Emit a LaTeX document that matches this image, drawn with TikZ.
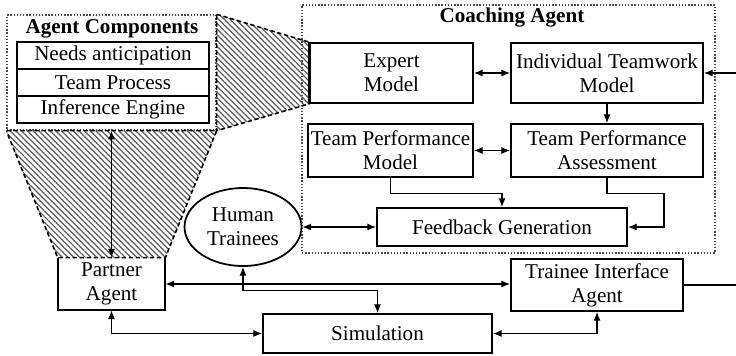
\documentclass[tikz,border=0pt]{standalone}
\usepackage{fontspec}
\setmainfont{Liberation Serif}
\usetikzlibrary{arrows.meta, patterns.meta, shapes.geometric}

\begin{document}
\begin{tikzpicture}[x=0.02cm, y=-0.02cm, font=\fontsize{12}{13.6}\selectfont,
	box/.style={draw, line width=1pt, inner sep=0pt, align=center},
	frame/.style={draw, densely dotted, line width=0.8pt, black!70, inner sep=0pt},
	link/.style={line width=0.7pt, -{Latex[length=5pt, width=4pt]}},
	dlink/.style={line width=0.7pt, {Latex[length=5pt, width=4pt]}-{Latex[length=5pt, width=4pt]}},
	hatch/.style={dash pattern=on 2.5pt off 1.5pt, line width=0.9pt, pattern={Lines[angle=-45, distance=2.3pt, line width=0.7pt]}, pattern color=black!65}]
	
	\useasboundingbox (0,0) rectangle (736,355);
	
	% Khung thành phần
	\node[frame, minimum width=4.18cm, minimum height=2.3cm] (comp) at (111.5, 72.5) {};
	\node[font=\fontsize{12}{13.6}\selectfont\bfseries] (compTitle) at (112, 29) {Agent Components};
	\node[box, minimum width=3.84cm, minimum height=0.54cm] (needs) at (113, 55.5) {Needs anticipation};
	\node[box, minimum width=3.84cm, minimum height=0.54cm] (process) at (113, 82.5) {Team Process};
	\node[box, minimum width=3.84cm, minimum height=0.54cm] (engine) at (113, 109.5) {Inference Engine};
	
	% Coaching Agent
	\node[frame, minimum width=8.26cm, minimum height=4.96cm] (coach) at (508.5, 129) {};
	\node[font=\fontsize{12}{13.6}\selectfont\bfseries] (coachTitle) at (512, 18) {Coaching Agent};
	\node[box, minimum width=3.26cm, minimum height=1.2cm] (expert) at (391.5, 73) {Expert\\Model};
	\node[box, minimum width=3.84cm, minimum height=1.2cm] (itm) at (607, 73) {Individual Teamwork\\Model};
	\node[box, minimum width=3.3cm, minimum height=1.06cm] (tpm) at (390.5, 150.5) {Team Performance\\Model};
	\node[box, minimum width=3.84cm, minimum height=1.06cm] (tpa) at (607, 150.5) {Team Performance\\Assessment};
	\node[box, minimum width=5cm, minimum height=0.76cm] (feed) at (502, 227) {Feedback Generation};
	
	% Ngoài
	\node[box, ellipse, minimum width=2.34cm, minimum height=1.56cm] (human) at (243, 227) {Human\\Trainees};
	\node[inner sep=0pt, align=center, minimum width=2.14cm, minimum height=1.04cm] (partner) at (111.5, 284) {Partner\\Agent};
	\node[box, minimum width=4.58cm, minimum height=0.78cm] (sim) at (377.5, 333.5) {Simulation};
	\node[box, minimum width=3.44cm, minimum height=1.04cm] (tia) at (597, 285) {Trainee Interface\\Agent};
	\draw[line width=1pt] (partner.north west) -- (partner.south west) -- (partner.south east) -- (partner.north east);
	
	% Vùng gạch chéo
	\draw[hatch] (comp.south west) -- (comp.south east) -- (partner.north east) -- (partner.north west) -- cycle;
	\draw[hatch] (comp.north east) -- (expert.north west) -- (expert.south west) -- (comp.south east) -- cycle;
	\draw[line width=1pt] (expert.north west) -- (expert.south west);
	
	% Mũi tên
	\draw[dlink] (expert.east) -- (itm.west);
	\draw[link] (itm.south) -- (tpa.north);
	\draw[dlink] (tpm.east) -- (tpa.west);
	\draw[link] (tpm.south) -- ++(0,16) -| (feed.north);
	\draw[link] (tpa.south) -- ++(0,16) -- ++(57,0) |- (feed.east);
	\draw[dlink] (human.east) -- (feed.west);
	\draw[dlink] (comp.south) -- (partner.north);
	\draw[dlink] (partner.east) -- (partner.east -| tia.west);
	\draw[dlink] (human.south) -- ++(0,24) -| (sim.north);
	\draw[dlink] (partner.south) |- (sim.west);
	\draw[dlink] (sim.east) -| (tia.south);
	\draw[link] (tia.east) -- ++(60,0) |- (itm.east);
\end{tikzpicture}
\end{document}
